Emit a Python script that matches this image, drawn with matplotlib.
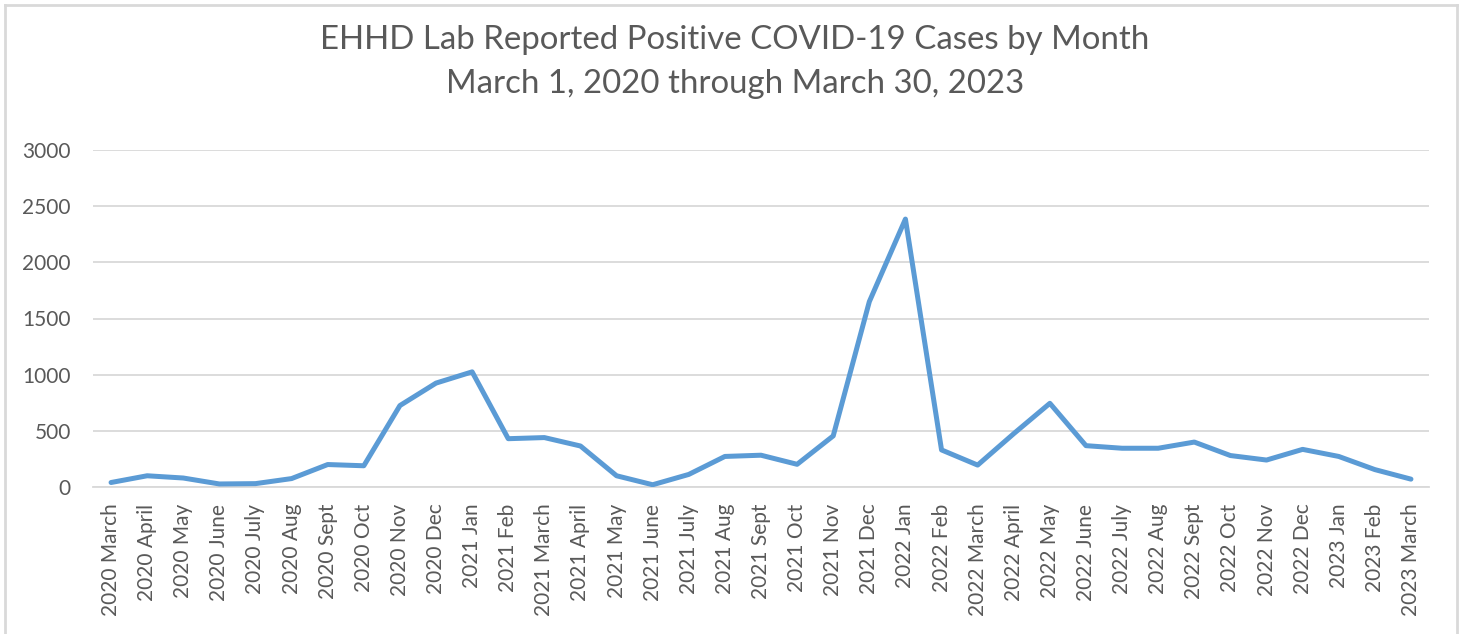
import matplotlib
matplotlib.use("Agg")
import matplotlib.pyplot as plt
from matplotlib.lines import Line2D

months = ["2020 March", "2020 April", "2020 May", "2020 June", "2020 July", "2020 Aug",
          "2020 Sept", "2020 Oct", "2020 Nov", "2020 Dec", "2021 Jan", "2021 Feb",
          "2021 March", "2021 April", "2021 May", "2021 June", "2021 July", "2021 Aug",
          "2021 Sept", "2021 Oct", "2021 Nov", "2021 Dec", "2022 Jan", "2022 Feb",
          "2022 March", "2022 April", "2022 May", "2022 June", "2022 July", "2022 Aug",
          "2022 Sept", "2022 Oct", "2022 Nov", "2022 Dec", "2023 Jan", "2023 Feb",
          "2023 March"]
cases = [40, 100, 80, 27, 30, 75,
         200, 189, 725, 925, 1025, 430,
         440, 365, 100, 20, 112, 272,
         283, 202, 455, 1650, 2385, 330,
         195, 475, 745, 368, 345, 345,
         400, 280, 240, 335, 272, 155,
         70]
yticks = [0, 500, 1000, 1500, 2000, 2500, 3000]
title = "EHHD Lab Reported Positive COVID-19 Cases by Month\nMarch 1, 2020 through March 30, 2023"

plt.rcParams['font.family'] = ['Lato', 'DejaVu Sans']
grey_text = "#595959"
grid_c = "#D9D9D9"

fig = plt.figure(figsize=(14.64, 6.34), dpi=100)
ax = fig.add_axes([93/1464, 1 - 487/634, (1429 - 93)/1464, (487 - 150)/634])

x = list(range(len(months)))
ax.plot(x, cases, color="#5B9BD5", linewidth=3.6, solid_joinstyle="round",
        solid_capstyle="round", zorder=3)

ax.set_xlim(-0.5, len(months) - 0.5)
ax.set_ylim(0, 3000)
ax.set_yticks(yticks)
ax.set_yticklabels([str(v) for v in yticks])
ax.set_xticks(x)
ax.set_xticklabels(months, rotation=90)
ax.tick_params(axis="both", length=0, labelsize=15, colors=grey_text)
ax.tick_params(axis="y", pad=16)
ax.tick_params(axis="x", pad=12)
ax.grid(axis="y", color=grid_c, linewidth=1.3)
ax.set_axisbelow(True)
for s in ["top", "right", "left"]:
    ax.spines[s].set_visible(False)
ax.spines["bottom"].set_color(grid_c)
ax.spines["bottom"].set_linewidth(1.3)

fig.text(735/1464, 1 - 62/634, title, ha="center", va="center", fontsize=23.8,
         color=grey_text, linespacing=1.6)

# chart border
bc = "#D9D9D9"
fig.add_artist(Line2D([5/1464, 5/1464], [0, 1 - 5/634], transform=fig.transFigure, color=bc, lw=2))
fig.add_artist(Line2D([1457/1464, 1457/1464], [0, 1 - 5/634], transform=fig.transFigure, color=bc, lw=2))
fig.add_artist(Line2D([5/1464, 1457/1464], [1 - 5/634, 1 - 5/634], transform=fig.transFigure, color=bc, lw=2))

fig.savefig("out.png", dpi=100, facecolor="white")
